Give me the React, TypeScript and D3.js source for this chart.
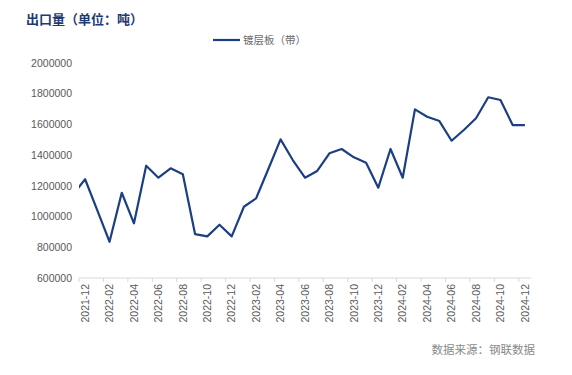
import * as d3 from "d3";

const months = [
  "2021-12", "2022-01", "2022-02", "2022-03", "2022-04", "2022-05", "2022-06",
  "2022-07", "2022-08", "2022-09", "2022-10", "2022-11", "2022-12",
  "2023-01", "2023-02", "2023-03", "2023-04", "2023-05", "2023-06",
  "2023-07", "2023-08", "2023-09", "2023-10", "2023-11", "2023-12",
  "2024-01", "2024-02", "2024-03", "2024-04", "2024-05", "2024-06",
  "2024-07", "2024-08", "2024-09", "2024-10", "2024-11", "2024-12",
];

// 镀层板（带）出口量，吨
const exportValues = [
  1243000, 1040000, 836000, 1155000, 956000, 1331000, 1253000,
  1314000, 1275000, 886000, 871000, 947000, 871000,
  1064000, 1119000, 1310000, 1503000, 1368000, 1253000,
  1297000, 1412000, 1440000, 1386000, 1351000, 1188000,
  1440000, 1253000, 1698000, 1650000, 1622000, 1494000,
  1564000, 1640000, 1777000, 1759000, 1596000, 1596000,
];

// 2021-11, before the window; the line enters from the clipped left edge
const prevValue = 1143000;

const yTicks = [600000, 800000, 1000000, 1200000, 1400000, 1600000, 1800000, 2000000];

const W = 572;
const H = 375;
const margin = { left: 79, right: 41, top: 63, bottom: 97 };

export default function App() {
  const x = d3.scaleBand<string>()
    .domain(months)
    .range([margin.left, W - margin.right]);
  const step = x.step();
  const cx = (m: string) => (x(m) ?? 0) + step / 2;

  const y = d3.scaleLinear()
    .domain([600000, 2000000])
    .range([H - margin.bottom, margin.top]);

  const pts: [number, number][] = [
    [cx(months[0]) - step, y(prevValue)],
    ...months.map((m, i) => [cx(m), y(exportValues[i])] as [number, number]),
  ];
  const line = d3.line<[number, number]>().x(d => d[0]).y(d => d[1]);

  const bottom = H - margin.bottom;
  const tickIdx = d3.range(0, months.length + 1, 2);

  return (
    <svg width={W} height={H} style={{ position: "absolute", left: 0, top: 0, background: "#fff" }}>
      <defs>
        <clipPath id="plot">
          <rect x={margin.left} y={0} width={W - margin.left - margin.right} height={H} />
        </clipPath>
      </defs>
      <text x={26} y={24} fontFamily="'Noto Sans CJK SC'" fontWeight="bold" fontSize={13} fill="#1f3a73">
        出口量（单位：吨）
      </text>

      <line x1={213} x2={240} y1={40} y2={40} stroke="#1c3f84" strokeWidth={2.2} />
      <text x={243} y={43.5} fontFamily="'Noto Sans CJK SC'" fontSize={10.5} fill="#6b6b6b">
        镀层板（带）
      </text>

      {yTicks.map(t => (
        <text key={t} x={72} y={y(t)} dy="0.35em" textAnchor="end"
          fontFamily="'Liberation Sans'" fontSize={10.5} fill="#595959">
          {t}
        </text>
      ))}

      <line x1={margin.left} x2={W - margin.right} y1={bottom} y2={bottom} stroke="#d9d9d9" />
      {tickIdx.map(k => {
        const xx = margin.left + k * step;
        return <line key={k} x1={xx} x2={xx} y1={bottom} y2={bottom + 4} stroke="#d9d9d9" />;
      })}
      {months.filter((_, i) => i % 2 === 0).map(m => (
        <text key={m} transform={`translate(${cx(m)},${bottom + 6}) rotate(-90)`}
          dy="0.35em" textAnchor="end" fontFamily="'Liberation Sans'" fontSize={10.5} fill="#595959">
          {m}
        </text>
      ))}

      <path d={line(pts) ?? ""} fill="none" stroke="#1c3f84" strokeWidth={2.2}
        strokeLinejoin="round" clipPath="url(#plot)" />

      <text x={535} y={354} textAnchor="end" fontFamily="'Noto Sans CJK SC'" fontSize={11.5} fill="#8a8a8a">
        数据来源：钢联数据
      </text>
    </svg>
  );
}
